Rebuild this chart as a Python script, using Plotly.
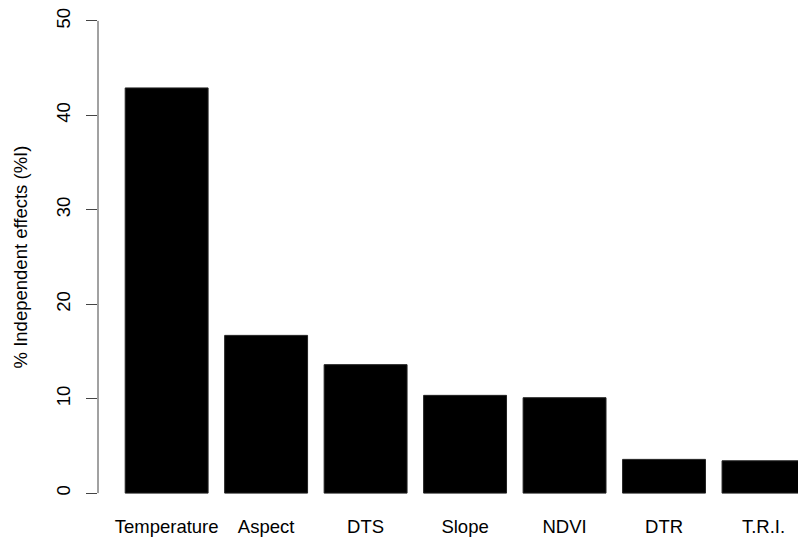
import plotly.graph_objects as go

# Relative importance of predictors (% independent effects)
predictors = ["Temperature", "Aspect", "DTS", "Slope", "NDVI", "DTR", "T.R.I."]
independent_effects = [42.9, 16.7, 13.6, 10.35, 10.1, 3.57, 3.42]

# barplot-style layout: unit-width bars separated by 0.2 spacing
bar_width = 1.0
spacing = 0.2
centers = [spacing + bar_width / 2 + i * (bar_width + spacing) for i in range(len(predictors))]

y_ticks = [0, 10, 20, 30, 40, 50]

FONT = "Liberation Sans, Arial, sans-serif"
AXIS_COLOR = "#444444"

fig = go.Figure()
fig.add_trace(go.Bar(
    x=centers,
    y=independent_effects,
    width=bar_width,
    marker=dict(color="black", line=dict(color="#222222", width=1)),
    hoverinfo="x+y",
))

fig.update_layout(
    width=798,
    height=543,
    margin=dict(l=98, r=0, t=2, b=31),
    paper_bgcolor="white",
    plot_bgcolor="white",
    showlegend=False,
    font=dict(family=FONT, size=18.5, color="black"),
    xaxis=dict(
        range=[-0.128, 8.316],
        tickvals=centers,
        ticktext=predictors,
        showgrid=False,
        zeroline=False,
        showline=False,
        ticks="",
        ticklabelstandoff=1,
        tickfont=dict(family=FONT, size=18.5, color="black"),
    ),
    yaxis=dict(
        range=[-2, 52],
        tickvals=y_ticks,
        ticktext=[str(v) for v in y_ticks],
        tickangle=-90,
        showgrid=False,
        zeroline=False,
        showline=False,
        ticks="outside",
        ticklen=11,
        tickcolor=AXIS_COLOR,
        tickwidth=1,
        ticklabelstandoff=9,
        tickfont=dict(family=FONT, size=18.5, color="black"),
        title=dict(text="% Independent effects (%I)", standoff=20,
                   font=dict(family=FONT, size=18.5, color="black")),
        automargin=False,
    ),
)

# y axis line spans only from the first to the last tick
fig.add_shape(
    type="line", xref="paper", yref="y",
    x0=0, x1=0, y0=y_ticks[0], y1=y_ticks[-1],
    line=dict(color=AXIS_COLOR, width=1),
)

fig.write_html("out.html")
